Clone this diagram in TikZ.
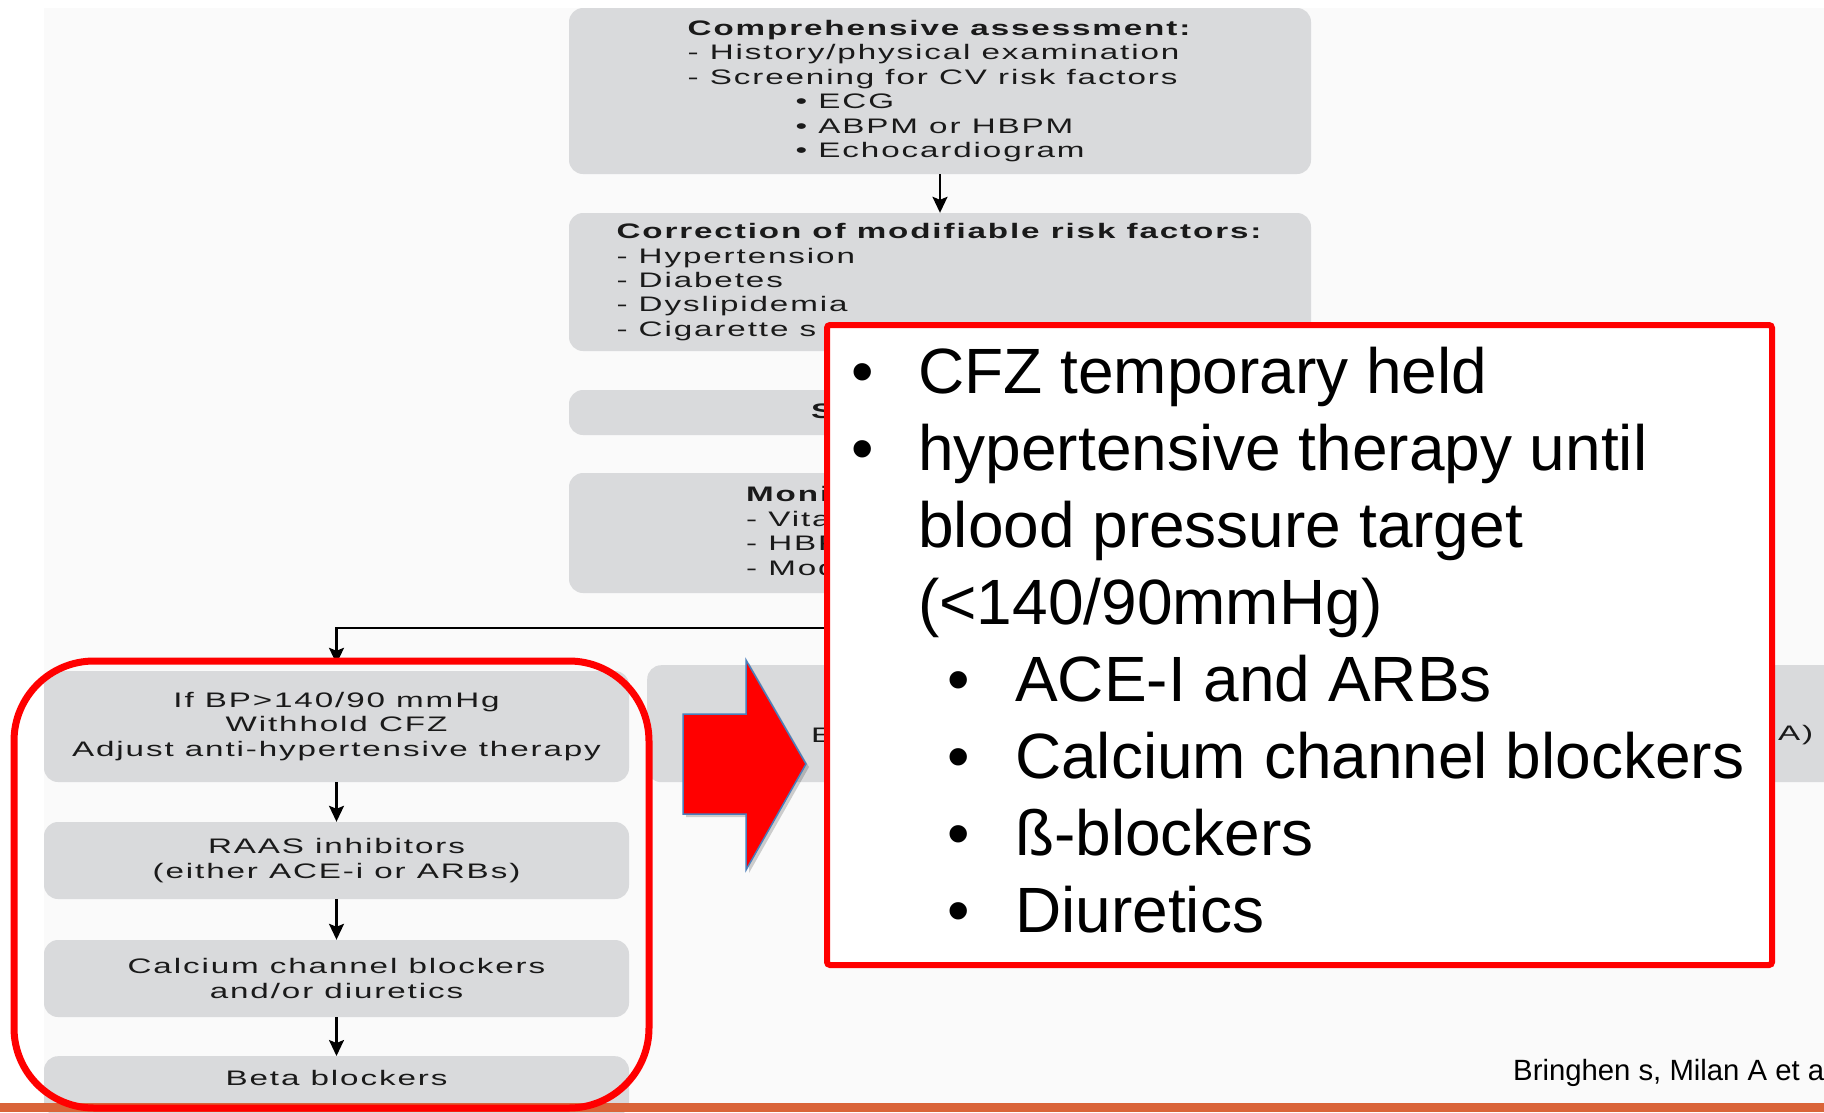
\documentclass[tikz,border=0pt]{standalone}
\usepackage{fontspec}
\setmainfont{Liberation Sans}
\newfontfamily\chartfont[FakeStretch=1.58,LetterSpace=9]{Liberation Sans}
\usetikzlibrary{arrows.meta}
\definecolor{boxgray}{HTML}{D9DADC}
\definecolor{panel}{HTML}{FAFAFA}
\definecolor{chartink}{HTML}{1A1A1A}
\definecolor{alertred}{HTML}{FF0000}
\definecolor{arrowedge}{HTML}{4A7EBB}
\definecolor{footbar}{HTML}{DA6439}

\begin{document}
\begin{tikzpicture}[x=1pt,y=-1pt,
  chartfontsize/.style={font=\chartfont\fontsize{21}{24.4}\selectfont},
  chartbox/.style={fill=boxgray, rounded corners=14pt, inner sep=0pt, text=chartink,
    align=center, chartfontsize},
  charttext/.style={inner sep=0pt, text=chartink, chartfontsize},
  flow/.style={line width=2.2pt, draw=black, -{Stealth[length=16pt,width=15pt,inset=3pt]}},
]
\useasboundingbox (0,0) rectangle (1824,1112);
\fill[white] (0,0) rectangle (1824,1112);
\fill[panel] (44,8) rectangle (1824,1103);

% upper column of the flow chart
\node[chartbox, minimum width=742pt, minimum height=166pt, align=left] (assess) at (940,91)
  {\textbf{Comprehensive assessment:}\\- History/physical examination\\- Screening for CV risk factors\\
   \hspace*{108pt}• ECG\\\hspace*{108pt}• ABPM or HBPM\\\hspace*{108pt}• Echocardiogram};
\node[chartbox, minimum width=742pt, minimum height=138pt, align=left] (correct) at (940,282)
  {\textbf{Correction of modifiable risk factors:}\\- Hypertension\\- Diabetes\\- Dyslipidemia\\- Cigarette s};
\node[chartbox, minimum width=742pt, minimum height=45pt] (screen) at (940,412.5) {};
\node[charttext, anchor=west, font=\chartfont\bfseries\fontsize{21}{24.4}\selectfont] (screentxt) at (811,411) {S};
\node[chartbox, minimum width=742pt, minimum height=120pt] (monitor) at (940,533) {};
\node[charttext, anchor=west, align=left] (monitortxt) at (746,531)
  {\textbf{Moni}\\- Vita\\- HBP\\- Mod};

% middle branch box
\node[chartbox, minimum width=1200pt, minimum height=117pt, anchor=north west] (middle) at (647,665) {};
\node[charttext, anchor=west] (midleft) at (811,735) {E};
\node[charttext, anchor=west] (midright) at (1778,735) {A)};

% left branch
\node[chartbox, minimum width=585pt, minimum height=111pt] (ifbp) at (336.5,726.5)
  {If BP>140/90 mmHg\\Withhold CFZ\\Adjust anti-hypertensive therapy};
\node[chartbox, minimum width=585pt, minimum height=77pt] (raas) at (336.5,860.5)
  {RAAS inhibitors\\(either ACE-i or ARBs)};
\node[chartbox, minimum width=585pt, minimum height=77pt] (ccb) at (336.5,978.5)
  {Calcium channel blockers\\and/or diuretics};
\node[chartbox, minimum width=585pt, minimum height=60pt, anchor=north] (beta) at (336.5,1056) {};
\node[charttext] (betatxt) at (336.5,1078) {Beta blockers};

% connectors
\coordinate (split) at (940,628);
\draw[flow] (assess.south) -- (correct.north);
\draw[flow] (monitor.south) -- (split) -| ([yshift=7pt]ifbp.north);
\draw[flow] (ifbp.south) -- (raas.north);
\draw[flow] (raas.south) -- (ccb.north);
\draw[flow] (ccb.south) -- (beta.north);

% footer bar
\fill[footbar] (0,1103) rectangle (1824,1112);

% highlight frame around the left branch
\node[draw=alertred, line width=7pt, rounded corners=80pt, minimum width=635pt,
  minimum height=447pt, inner sep=0pt, outer sep=0pt] (focus) at (331.5,884.5) {};

% block arrow pointing to the note
\fill[black, opacity=0.18] (686,717) -- (749,717) -- (749,663) -- (809,767) -- (749,873) -- (749,817) -- (686,817) -- cycle;
\filldraw[fill=alertred, draw=arrowedge, line width=1.5pt]
  (683,714) -- (746,714) -- (746,660) -- (806,764) -- (746,870) -- (746,814) -- (683,814) -- cycle;

% note box
\node[draw=alertred, fill=white, line width=6pt, rounded corners=3pt, minimum width=945pt,
  minimum height=640pt, inner sep=0pt, outer sep=0pt, anchor=north west] (noteframe) at (827,325) {};
\node[anchor=north west, inner sep=0pt, align=left, font=\fontsize{64}{77}\selectfont] (notetext) at (851,347)
  {\makebox[67pt][l]{•}CFZ temporary held\\
   \makebox[67pt][l]{•}hypertensive therapy until\\
   \hspace*{67pt}blood pressure target\\
   \hspace*{67pt}(<140/90mmHg)\\
   \hspace*{96pt}\makebox[68pt][l]{•}ACE-I and ARBs\\
   \hspace*{96pt}\makebox[68pt][l]{•}Calcium channel blockers\\
   \hspace*{96pt}\makebox[68pt][l]{•}ß-blockers\\
   \hspace*{96pt}\makebox[68pt][l]{•}Diuretics};

% citation
\node[anchor=base west, inner sep=0pt, font=\fontsize{29.3}{34}\selectfont] (cite) at (1513,1080)
  {Bringhen s, Milan A et a};
\end{tikzpicture}
\end{document}
